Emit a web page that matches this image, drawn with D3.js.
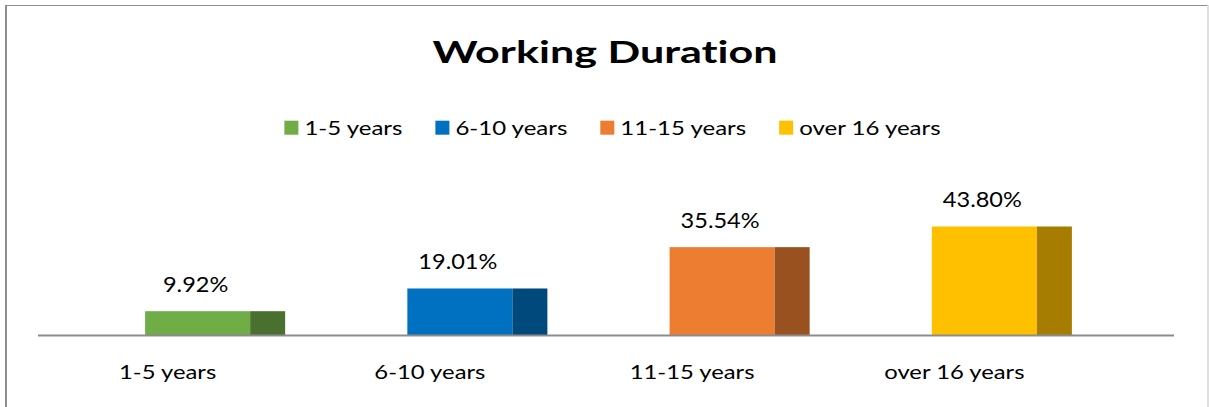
<!DOCTYPE html>
<html>
<head>
<meta charset="utf-8">
<script src="https://cdn.jsdelivr.net/npm/d3@7"></script>
<style>
  html, body { margin: 0; padding: 0; background: #fff; }
  svg { display: block; }
  text { font-variant-ligatures: none; }
</style>
</head>
<body>
<script>
// ---- data ----
const categories = ["1-5 years", "6-10 years", "11-15 years", "over 16 years"];
const values = [9.92, 19.01, 35.54, 43.80];
const valueLabels = ["9.92%", "19.01%", "35.54%", "43.80%"];
const seriesColors = ["#70AD47", "#0070C0", "#ED7D31", "#FFC000"];
const chartTitle = "Working Duration";

// ---- layout ----
const W = 1209, H = 407;
const FONT = "Lato, 'Open Sans', sans-serif";
const svg = d3.select("body").append("svg").attr("width", W).attr("height", H);

svg.append("rect").attr("width", W).attr("height", H).attr("fill", "#fff");
// chart border (top + left darker, right lighter)
svg.append("line").attr("x1", 6).attr("x2", 1208).attr("y1", 5.5).attr("y2", 5.5)
  .attr("stroke", "#8e8e8e").attr("stroke-width", 1.2);
svg.append("line").attr("x1", 6).attr("x2", 6).attr("y1", 5).attr("y2", H)
  .attr("stroke", "#8e8e8e").attr("stroke-width", 2);
svg.append("line").attr("x1", 1208).attr("x2", 1208).attr("y1", 5).attr("y2", H)
  .attr("stroke", "#d4d4d4").attr("stroke-width", 1.5);

const x = d3.scaleBand().domain(categories).range([84, 1133]).paddingInner(0.466).paddingOuter(0.233);
const y = d3.scaleLinear().domain([0, 50]).range([336, 211]);
const frontW = x.bandwidth() * 0.75;
const sideW = x.bandwidth() - frontW;
const shade = c => { const r = d3.rgb(c); return d3.rgb(r.r * 0.65, r.g * 0.65, r.b * 0.65).formatHex(); };

function stretch(sel, k) {
  sel.each(function () {
    const w = this.getComputedTextLength();
    d3.select(this).attr("textLength", w * k).attr("lengthAdjust", "spacingAndGlyphs");
  });
}

// title
svg.append("text").attr("x", 605).attr("y", 63.3).attr("text-anchor", "middle")
  .attr("font-family", FONT).attr("font-weight", "bold").attr("font-size", 31).attr("fill", "#000")
  .text(chartTitle).call(stretch, 1.39);

// bars
const g = svg.append("g");
const bars = g.selectAll("g.bar").data(categories).join("g").attr("class", "bar");
bars.append("rect").attr("x", d => x(d)).attr("y", (d, i) => y(values[i]))
  .attr("width", frontW).attr("height", (d, i) => y(0) - y(values[i]))
  .attr("fill", (d, i) => seriesColors[i]);
bars.append("rect").attr("x", d => x(d) + frontW).attr("y", (d, i) => y(values[i]))
  .attr("width", sideW).attr("height", (d, i) => y(0) - y(values[i]))
  .attr("fill", (d, i) => shade(seriesColors[i]));

// value labels
bars.append("text").attr("x", d => x(d) + frontW / 2 - 2).attr("y", (d, i) => y(values[i]) - 19.5)
  .attr("text-anchor", "middle").attr("font-family", FONT).attr("font-size", 21).attr("fill", "#000")
  .text((d, i) => valueLabels[i]).call(stretch, 1.12);

// axis
const axis = d3.axisBottom(x).tickSize(0).tickPadding(0);
const ax = svg.append("g").attr("transform", "translate(0,335.5)").call(axis);
ax.select(".domain").remove();
svg.append("line").attr("x1", 38).attr("x2", 1174).attr("y1", 335.5).attr("y2", 335.5)
  .attr("stroke", "#8c8c8c").attr("stroke-width", 2);
ax.selectAll(".tick").attr("transform", d => `translate(${x(d) + 22.5},0)`);
ax.selectAll(".tick text").attr("y", 43.5).attr("dy", null).attr("font-family", FONT)
  .attr("font-size", 20).attr("fill", "#000").call(stretch, 1.19);

// legend
const leg = svg.append("g");
const items = leg.selectAll("g").data(categories).join("g");
items.append("rect").attr("width", 14).attr("height", 14).attr("y", 120.7)
  .attr("fill", (d, i) => seriesColors[i]);
items.append("text").attr("x", 20).attr("y", 135).attr("font-family", FONT).attr("font-size", 20)
  .attr("fill", "#000").text(d => d).call(stretch, 1.2);
let cx = 0;
const offs = [];
items.each(function () {
  offs.push(cx);
  const t = d3.select(this).select("text").node();
  cx += 20 + +t.getAttribute("textLength") + 33;
});
const total = cx - 33;
const start = 612.5 - total / 2;
items.attr("transform", (d, i) => `translate(${start + offs[i]},0)`);
</script>
</body>
</html>
